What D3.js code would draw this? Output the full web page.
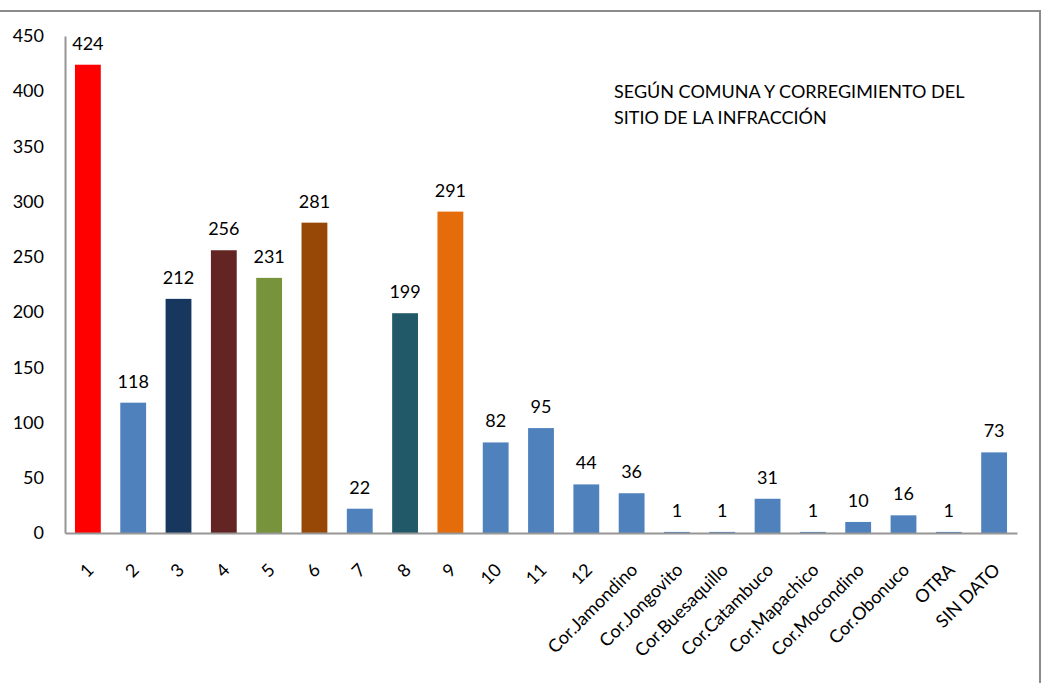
<!DOCTYPE html>
<html>
<head>
<meta charset="utf-8">
<script src="https://cdn.jsdelivr.net/npm/d3@7"></script>
<style>
  body { margin: 0; background: #fff; }
  text { font-family: Lato, "Open Sans", sans-serif; fill: #000; }
</style>
</head>
<body>
<div id="graf"></div>
<script>
const categorias = ["1", "2", "3", "4", "5", "6", "7", "8", "9", "10", "11", "12",
  "Cor.Jamondino", "Cor.Jongovito", "Cor.Buesaquillo", "Cor.Catambuco", "Cor.Mapachico",
  "Cor.Mocondino", "Cor.Obonuco", "OTRA", "SIN DATO"]
const valores = [424, 118, 212, 256, 231, 281, 22, 199, 291, 82, 95, 44, 36, 1, 1, 31, 1, 10, 16, 1, 73]
const colores = ["#FF0000", "#4F81BD", "#17375E", "#632523", "#77933C", "#974806", "#4F81BD",
  "#215968", "#E46C0A", "#4F81BD", "#4F81BD", "#4F81BD", "#4F81BD", "#4F81BD", "#4F81BD",
  "#4F81BD", "#4F81BD", "#4F81BD", "#4F81BD", "#4F81BD", "#4F81BD"]
const ticksY = [0, 50, 100, 150, 200, 250, 300, 350, 400, 450]
const titulo = ["SEGÚN COMUNA Y CORREGIMIENTO DEL", "SITIO DE LA INFRACCIÓN"]

const anchoTotal = 1042
const altoTotal = 683
const margins = { top: 36, right: 25, bottom: 150, left: 65 }
const ancho = anchoTotal - margins.left - margins.right
const alto = altoTotal - margins.top - margins.bottom
const fuente = 18

const svg = d3.select("#graf")
  .append("svg")
  .attr("width", anchoTotal)
  .attr("height", altoTotal)

// marco
svg.append("rect")
  .attr("x", -2).attr("y", 11)
  .attr("width", 1042).attr("height", 700)
  .attr("fill", "none").attr("stroke", "#8c8c8c").attr("stroke-width", 2)

const g = svg.append("g")
  .attr("transform", `translate(${margins.left}, ${margins.top})`)

const x = d3.scaleBand().domain(categorias).range([0, ancho]).paddingInner(0.43).paddingOuter(0.22)
const y = d3.scaleLinear().domain([0, 450]).range([alto, 0])

// eje y
const ejeY = g.append("g")
  .call(d3.axisLeft(y).tickValues(ticksY).tickSize(0).tickPadding(21))
ejeY.select(".domain").attr("stroke", "#969696").attr("stroke-width", 2)
ejeY.selectAll("text").attr("font-size", fuente).attr("font-family", "Lato, sans-serif")

// barras
g.selectAll("rect.barra")
  .data(valores)
  .enter()
  .append("rect")
  .attr("class", "barra")
  .attr("x", (d, i) => x(categorias[i]))
  .attr("y", (d) => y(d))
  .attr("width", x.bandwidth())
  .attr("height", (d) => alto - y(d))
  .attr("fill", (d, i) => colores[i])

// etiquetas de valor
g.selectAll("text.valor")
  .data(valores)
  .enter()
  .append("text")
  .attr("class", "valor")
  .attr("x", (d, i) => x(categorias[i]) + x.bandwidth() / 2)
  .attr("y", (d) => y(d) - 15)
  .attr("text-anchor", "middle")
  .attr("font-size", fuente)
  .text((d) => d)

// eje x
const ejeX = g.append("g")
  .attr("transform", `translate(0, ${alto})`)
  .call(d3.axisBottom(x).tickSize(0).tickSizeOuter(0).tickFormat(""))
ejeX.select(".domain").attr("stroke", "#969696").attr("stroke-width", 2)

g.selectAll("text.cat")
  .data(categorias)
  .enter()
  .append("text")
  .attr("class", "cat")
  .attr("transform", (d) => `translate(${x(d) + x.bandwidth() / 2 + 7}, ${alto + 38}) rotate(-45)`)
  .attr("text-anchor", "end")
  .attr("font-size", fuente)
  .text((d) => d)

// titulo
svg.selectAll("text.titulo")
  .data(titulo)
  .enter()
  .append("text")
  .attr("class", "titulo")
  .attr("x", 614)
  .attr("y", (d, i) => 98 + i * 26)
  .attr("font-size", fuente)
  .text((d) => d)
</script>
</body>
</html>
